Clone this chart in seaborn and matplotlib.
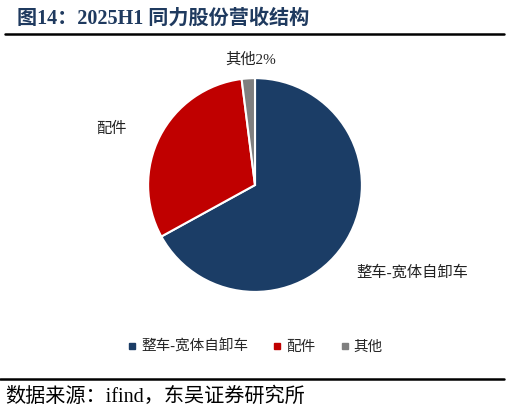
import matplotlib.pyplot as plt
import seaborn as sns
from matplotlib.lines import Line2D

# 营收结构数据
categories = ['整车-宽体自卸车', '配件', '其他']
shares = [67, 31, 2]
slice_labels = ['整车-宽体自卸车', '配件', '其他2%']
colors = ['#1b3d66', '#c00000', '#7f7f7f']

sns.set_theme(style='white')
plt.rcParams['font.family'] = ['Liberation Serif', 'Noto Sans CJK SC']

fig = plt.figure(figsize=(5.09, 4.13), dpi=100)
ax = fig.add_axes([0.291, 0.293, 0.420, 0.518])

wedges, texts = ax.pie(shares, colors=colors, startangle=90, counterclock=False,
                       wedgeprops=dict(edgecolor='white', linewidth=1.5))
ax.set_xlim(-1, 1)
ax.set_ylim(-1, 1)
ax.set_aspect('equal')

# 标签位置
label_pos = {0: (1.47, -0.82), 1: (-1.34, 0.53), 2: (-0.04, 1.17)}
for i, lab in enumerate(slice_labels):
    x, y = label_pos[i]
    ax.text(x, y, lab, ha='center', va='center', fontsize=11, color='#222222')

handles = [Line2D([0], [0], marker='s', linestyle='', markersize=4.5,
                  markerfacecolor=c, markeredgecolor=c) for c in colors]
fig.legend(handles, categories, loc='center', bbox_to_anchor=(0.5, 0.16), ncol=3,
           frameon=False, fontsize=10.5, handletextpad=0.2, columnspacing=1.6,
           handlelength=0.8)

fig.text(0.033, 0.955, '图14：2025H1 同力股份营收结构', fontsize=14.5, fontweight='bold',
         color='#1f3a5f', ha='left', va='center')
fig.add_artist(Line2D([0.01, 0.99], [0.917, 0.917], color='black', linewidth=1.8))
fig.add_artist(Line2D([0.0, 0.99], [0.082, 0.082], color='black', linewidth=1.8))
fig.text(0.01, 0.038, '数据来源：ifind，东吴证券研究所', fontsize=14.5, color='black',
         ha='left', va='center')

fig.savefig('out.png', dpi=100)
